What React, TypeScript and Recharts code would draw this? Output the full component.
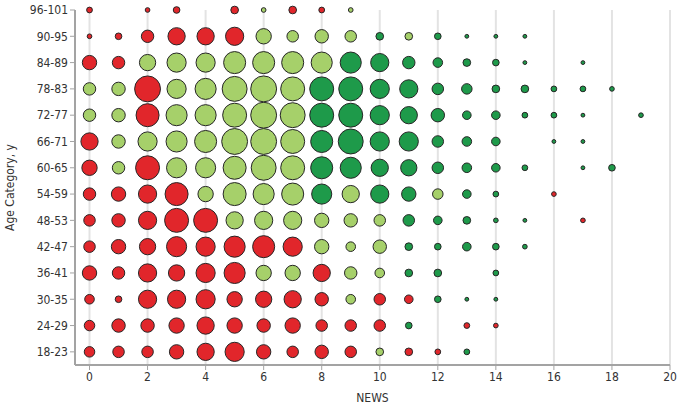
import React from 'react'
import { ScatterChart, Scatter, XAxis, YAxis, ZAxis, CartesianGrid } from 'recharts'

// age bands, bottom to top
const ageCategories = [
  '18-23', '24-29', '30-35', '36-41', '42-47', '48-53', '54-59',
  '60-65', '66-71', '72-77', '78-83', '84-89', '90-95', '96-101',
]

const newsTicks = [0, 2, 4, 6, 8, 10, 12, 14, 16, 18, 20]

// relative patient counts per NEWS score 0..19 (0 = no patients)
const counts: number[][] = [
  [30, 36, 36, 56, 81, 100, 56, 36, 49, 36, 16, 16, 9, 9, 0, 0, 0, 0, 0, 0],
  [30, 49, 49, 64, 81, 64, 49, 64, 36, 36, 36, 12, 0, 9, 6, 0, 0, 0, 0, 0],
  [25, 12, 90, 90, 100, 64, 72, 81, 49, 25, 36, 20, 12, 4, 4, 0, 0, 0, 0, 0],
  [56, 42, 90, 72, 100, 121, 64, 64, 81, 42, 25, 16, 16, 0, 9, 0, 0, 0, 0, 0],
  [36, 56, 72, 110, 100, 121, 132, 100, 56, 25, 49, 16, 12, 20, 12, 6, 0, 0, 0, 0],
  [36, 49, 90, 156, 156, 81, 90, 90, 56, 49, 36, 36, 20, 16, 6, 4, 0, 6, 0, 0],
  [42, 56, 90, 144, 64, 144, 121, 132, 110, 81, 90, 56, 30, 20, 9, 0, 6, 0, 0, 0],
  [64, 42, 156, 110, 110, 144, 169, 156, 132, 121, 81, 72, 36, 25, 20, 9, 0, 4, 12, 0],
  [81, 49, 100, 121, 132, 182, 182, 156, 132, 169, 100, 100, 36, 25, 20, 0, 4, 4, 0, 0],
  [42, 49, 144, 121, 121, 156, 182, 169, 156, 156, 100, 81, 49, 20, 20, 9, 9, 4, 0, 6],
  [42, 49, 182, 100, 121, 169, 182, 156, 156, 156, 100, 90, 36, 30, 16, 16, 9, 9, 6, 0],
  [56, 42, 72, 100, 100, 132, 132, 132, 121, 121, 90, 42, 25, 16, 12, 4, 0, 4, 0, 0],
  [6, 12, 42, 81, 81, 90, 64, 36, 49, 36, 16, 16, 12, 4, 4, 4, 0, 0, 0, 0],
  [9, 0, 6, 12, 0, 16, 6, 16, 9, 6, 0, 0, 0, 0, 0, 0, 0, 0, 0, 0],
]

// colour group per cell: R = red, L = light green, G = dark green
const groups = [
  'RRRRRRRRRRLRRG------',
  'RRRRRRRRRRRG-RR-----',
  'RRRRRRRRRLRRGGG-----',
  'RRRRRRLLRLLGG-G-----',
  'RRRRRRRRLLLGGGGG----',
  'RRRRRLLLLLLGGGGG-R--',
  'RRRRLLLLGLGGLGG-R---',
  'RLRLLLLLGGGGGGGG-GG-',
  'RLLLLLLLGGGGGGG-GG--',
  'LLRLLLLLGGGGGGGGGG-G',
  'LLRLLLLLGGGGGGGGGGG-',
  'RRLLLLLLLGGGGGGG-G--',
  'RRRRRRLLLLGLGGGG----',
  'R-RR-RLRRL----------',
]

const colors: Record<string, string> = { R: '#e1262b', L: '#a6d06a', G: '#1e9a4a' }

function pointsFor(code: string) {
  const out: { x: number; y: number; z: number }[] = []
  counts.forEach((row, y) => {
    row.forEach((z, x) => {
      if (z > 0 && groups[y][x] === code) out.push({ x, y, z })
    })
  })
  return out
}

const font = "'DejaVu Sans Condensed', 'Liberation Sans Narrow', 'DejaVu Sans', sans-serif"
const maxCount = 182

export default function App() {
  return (
    <div style={{ position: 'absolute', left: 0, top: 0, background: '#fff' }}>
      <ScatterChart width={680} height={409} margin={{ top: 10, right: 10, bottom: 20, left: 10 }}>
        <CartesianGrid horizontal={false} stroke="#e3e3e3" strokeWidth={2} />
        <XAxis
          type="number"
          dataKey="x"
          domain={[-0.5, 20]}
          ticks={newsTicks}
          height={24}
          axisLine={{ stroke: '#a3a3a3', strokeWidth: 2 }}
          tickLine={{ stroke: '#a3a3a3' }}
          tickSize={5}
          tick={{ fill: '#333', fontSize: 12, fontFamily: font }}
          label={{ value: 'NEWS', position: 'bottom', offset: 4, fill: '#333', fontSize: 12, fontFamily: font }}
        />
        <YAxis
          type="number"
          dataKey="y"
          domain={[-0.5, 13]}
          ticks={ageCategories.map((_, i) => i)}
          tickFormatter={(v: number) => ageCategories[v]}
          width={65}
          axisLine={{ stroke: '#a3a3a3', strokeWidth: 2 }}
          tickLine={{ stroke: '#a3a3a3' }}
          tickSize={5}
          tick={{ fill: '#333', fontSize: 12, fontFamily: font }}
          label={{
            value: 'Age Category, y',
            angle: -90,
            position: 'insideLeft',
            offset: 0,
            fill: '#333',
            fontSize: 12,
            fontFamily: font,
            style: { textAnchor: 'middle' },
          }}
        />
        <ZAxis type="number" dataKey="z" domain={[0, maxCount]} range={[0, maxCount * Math.PI * 0.92]} />
        {['R', 'L', 'G'].map((code) => (
          <Scatter
            key={code}
            data={pointsFor(code)}
            fill={colors[code]}
            stroke="#262626"
            strokeWidth={1}
            isAnimationActive={false}
          />
        ))}
      </ScatterChart>
    </div>
  )
}
